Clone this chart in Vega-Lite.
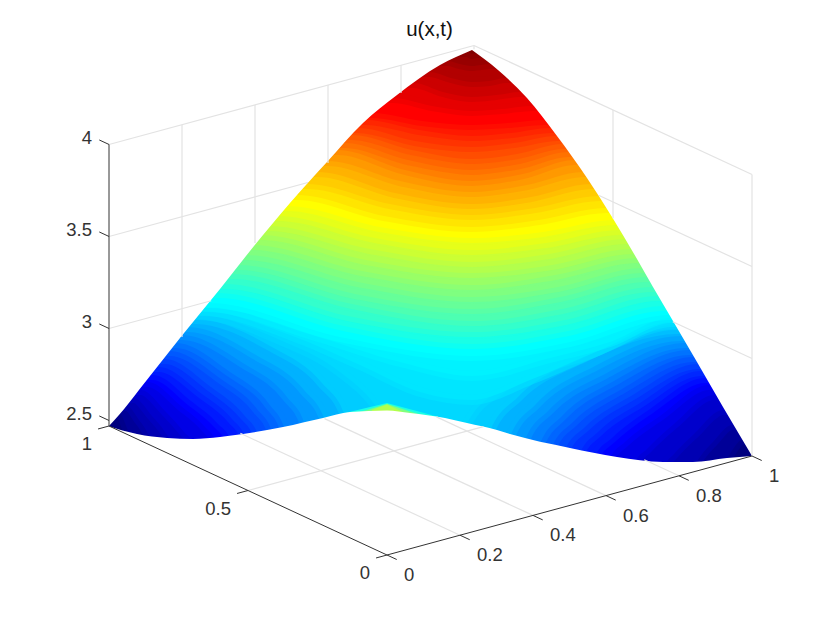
{"$schema":"https://vega.github.io/schema/vega-lite/v6.json","width":830,"height":623,"padding":0,"autosize":{"type":"none"},"background":"white","config":{"view":{"stroke":null}},
"title":{"text":"u(x,t)","frame":"group","anchor":"middle","orient":"top","offset":0,"dx":14.5,"dy":55,"baseline":"middle","font":"Liberation Sans","fontSize":20.5,"fontWeight":"normal","color":"#111111"},
"datasets":{
"surface":[
{"u":2.47,"h":108,"v":490},{"u":2.47,"h":752,"v":490},
{"u":2.508,"h":108,"v":414},{"u":2.508,"h":120,"v":414},{"u":2.508,"h":125,"v":423},{"u":2.508,"h":128,"v":431},{"u":2.508,"h":130,"v":435},{"u":2.508,"h":138,"v":490},{"u":2.508,"h":717,"v":490},{"u":2.508,"h":725,"v":461},{"u":2.508,"h":728,"v":457},{"u":2.508,"h":733,"v":449},{"u":2.508,"h":742,"v":440},{"u":2.508,"h":752,"v":440},
{"u":2.547,"h":108,"v":406},{"u":2.547,"h":127,"v":406},{"u":2.547,"h":139,"v":420},{"u":2.547,"h":147,"v":432},{"u":2.547,"h":150,"v":439},{"u":2.547,"h":158,"v":490},{"u":2.547,"h":687,"v":490},{"u":2.547,"h":695,"v":465},{"u":2.547,"h":700,"v":457},{"u":2.547,"h":713,"v":442},{"u":2.547,"h":732,"v":425},{"u":2.547,"h":752,"v":425},
{"u":2.585,"h":108,"v":398},{"u":2.585,"h":134,"v":398},{"u":2.585,"h":152,"v":416},{"u":2.585,"h":165,"v":432},{"u":2.585,"h":170,"v":441},{"u":2.585,"h":178,"v":490},{"u":2.585,"h":657,"v":490},{"u":2.585,"h":665,"v":465},{"u":2.585,"h":674,"v":454},{"u":2.585,"h":694,"v":434},{"u":2.585,"h":723,"v":410},{"u":2.585,"h":752,"v":410},
{"u":2.623,"h":108,"v":390},{"u":2.623,"h":141,"v":390},{"u":2.623,"h":166,"v":412},{"u":2.623,"h":184,"v":432},{"u":2.623,"h":192,"v":442},{"u":2.623,"h":200,"v":490},{"u":2.623,"h":627,"v":490},{"u":2.623,"h":635,"v":462},{"u":2.623,"h":647,"v":449},{"u":2.623,"h":674,"v":424},{"u":2.623,"h":714,"v":395},{"u":2.623,"h":752,"v":395},
{"u":2.661,"h":108,"v":382},{"u":2.661,"h":148,"v":382},{"u":2.661,"h":181,"v":406},{"u":2.661,"h":205,"v":427},{"u":2.661,"h":215,"v":440},{"u":2.661,"h":223,"v":490},{"u":2.661,"h":602,"v":490},{"u":2.661,"h":610,"v":458},{"u":2.661,"h":625,"v":442},{"u":2.661,"h":660,"v":416},{"u":2.661,"h":709,"v":385},{"u":2.661,"h":752,"v":385},
{"u":2.7,"h":108,"v":375},{"u":2.7,"h":153,"v":375},{"u":2.7,"h":191,"v":401},{"u":2.7,"h":218,"v":424},{"u":2.7,"h":230,"v":439},{"u":2.7,"h":238,"v":490},{"u":2.7,"h":587,"v":490},{"u":2.7,"h":595,"v":456},{"u":2.7,"h":612,"v":438},{"u":2.7,"h":650,"v":409},{"u":2.7,"h":705,"v":378},{"u":2.7,"h":752,"v":378},
{"u":2.738,"h":108,"v":367},{"u":2.738,"h":159,"v":367},{"u":2.738,"h":202,"v":394},{"u":2.738,"h":232,"v":419},{"u":2.738,"h":245,"v":437},{"u":2.738,"h":253,"v":490},{"u":2.738,"h":572,"v":490},{"u":2.738,"h":580,"v":453},{"u":2.738,"h":598,"v":432},{"u":2.738,"h":640,"v":403},{"u":2.738,"h":701,"v":371},{"u":2.738,"h":752,"v":371},
{"u":2.776,"h":108,"v":359},{"u":2.776,"h":165,"v":359},{"u":2.776,"h":211,"v":387},{"u":2.776,"h":244,"v":415},{"u":2.776,"h":258,"v":435},{"u":2.776,"h":266,"v":490},{"u":2.776,"h":557,"v":490},{"u":2.776,"h":565,"v":450},{"u":2.776,"h":585,"v":427},{"u":2.776,"h":631,"v":396},{"u":2.776,"h":698,"v":364},{"u":2.776,"h":752,"v":364},
{"u":2.814,"h":108,"v":351},{"u":2.814,"h":170,"v":351},{"u":2.814,"h":221,"v":379},{"u":2.814,"h":257,"v":409},{"u":2.814,"h":272,"v":432},{"u":2.814,"h":280,"v":490},{"u":2.814,"h":544,"v":490},{"u":2.814,"h":552,"v":447},{"u":2.814,"h":573,"v":422},{"u":2.814,"h":622,"v":389},{"u":2.814,"h":693,"v":357},{"u":2.814,"h":752,"v":357},
{"u":2.853,"h":108,"v":343},{"u":2.853,"h":176,"v":343},{"u":2.853,"h":230,"v":372},{"u":2.853,"h":269,"v":404},{"u":2.853,"h":285,"v":430},{"u":2.853,"h":293,"v":490},{"u":2.853,"h":532,"v":490},{"u":2.853,"h":540,"v":444},{"u":2.853,"h":562,"v":416},{"u":2.853,"h":614,"v":381},{"u":2.853,"h":689,"v":350},{"u":2.853,"h":752,"v":350},
{"u":2.891,"h":108,"v":335},{"u":2.891,"h":182,"v":335},{"u":2.891,"h":243,"v":363},{"u":2.891,"h":287,"v":397},{"u":2.891,"h":305,"v":425},{"u":2.891,"h":313,"v":490},{"u":2.891,"h":517,"v":490},{"u":2.891,"h":525,"v":440},{"u":2.891,"h":549,"v":410},{"u":2.891,"h":605,"v":374},{"u":2.891,"h":685,"v":343},{"u":2.891,"h":752,"v":343},
{"u":2.929,"h":108,"v":327},{"u":2.929,"h":188,"v":327},{"u":2.929,"h":256,"v":355},{"u":2.929,"h":304,"v":390},{"u":2.929,"h":325,"v":421},{"u":2.929,"h":333,"v":490},{"u":2.929,"h":502,"v":490},{"u":2.929,"h":510,"v":437},{"u":2.929,"h":536,"v":404},{"u":2.929,"h":595,"v":366},{"u":2.929,"h":681,"v":336},{"u":2.929,"h":752,"v":336},
{"u":2.967,"h":108,"v":319},{"u":2.967,"h":195,"v":319},{"u":2.967,"h":270,"v":346},{"u":2.967,"h":322,"v":383},{"u":2.967,"h":345,"v":416},{"u":2.967,"h":353,"v":490},{"u":2.967,"h":482,"v":490},{"u":2.967,"h":490,"v":431},{"u":2.967,"h":518,"v":397},{"u":2.967,"h":583,"v":358},{"u":2.967,"h":677,"v":329},{"u":2.967,"h":752,"v":329},
{"u":2.986,"h":108,"v":315},{"u":2.986,"h":198,"v":315},{"u":2.986,"h":280,"v":340},{"u":2.986,"h":340,"v":372},{"u":2.986,"h":375,"v":405},{"u":2.986,"h":385,"v":420},{"u":2.986,"h":392,"v":490},{"u":2.986,"h":457,"v":490},{"u":2.986,"h":465,"v":428},{"u":2.986,"h":500,"v":390},{"u":2.986,"h":590,"v":354},{"u":2.986,"h":675,"v":325},{"u":2.986,"h":752,"v":325},
{"u":3.006,"h":108,"v":311},{"u":3.006,"h":202,"v":311},{"u":3.006,"h":290,"v":335},{"u":3.006,"h":360,"v":365},{"u":3.006,"h":420,"v":392},{"u":3.006,"h":472,"v":400},{"u":3.006,"h":530,"v":380},{"u":3.006,"h":600,"v":350},{"u":3.006,"h":673,"v":322},{"u":3.006,"h":752,"v":322},
{"u":3.025,"h":108,"v":307},{"u":3.025,"h":205,"v":307},{"u":3.025,"h":315,"v":336},{"u":3.025,"h":400,"v":362},{"u":3.025,"h":472,"v":376},{"u":3.025,"h":550,"v":358},{"u":3.025,"h":610,"v":342},{"u":3.025,"h":671,"v":318},{"u":3.025,"h":752,"v":318},
{"u":3.044,"h":108,"v":303},{"u":3.044,"h":209,"v":303},{"u":3.044,"h":340,"v":337},{"u":3.044,"h":472,"v":356},{"u":3.044,"h":570,"v":342},{"u":3.044,"h":669,"v":315},{"u":3.044,"h":752,"v":315},
{"u":3.082,"h":108,"v":293},{"u":3.082,"h":217,"v":293},{"u":3.082,"h":344,"v":326},{"u":3.082,"h":472,"v":344},{"u":3.082,"h":568,"v":331},{"u":3.082,"h":664,"v":306},{"u":3.082,"h":752,"v":306},
{"u":3.12,"h":108,"v":284},{"u":3.12,"h":224,"v":284},{"u":3.12,"h":348,"v":316},{"u":3.12,"h":472,"v":332},{"u":3.12,"h":565,"v":320},{"u":3.12,"h":658,"v":296},{"u":3.12,"h":752,"v":296},
{"u":3.159,"h":108,"v":274},{"u":3.159,"h":232,"v":274},{"u":3.159,"h":352,"v":304},{"u":3.159,"h":472,"v":321},{"u":3.159,"h":562,"v":309},{"u":3.159,"h":652,"v":287},{"u":3.159,"h":752,"v":287},
{"u":3.197,"h":108,"v":265},{"u":3.197,"h":238,"v":265},{"u":3.197,"h":355,"v":294},{"u":3.197,"h":472,"v":309},{"u":3.197,"h":560,"v":297},{"u":3.197,"h":647,"v":277},{"u":3.197,"h":752,"v":277},
{"u":3.235,"h":108,"v":255},{"u":3.235,"h":245,"v":255},{"u":3.235,"h":358,"v":282},{"u":3.235,"h":472,"v":297},{"u":3.235,"h":558,"v":287},{"u":3.235,"h":643,"v":268},{"u":3.235,"h":752,"v":268},
{"u":3.273,"h":108,"v":245},{"u":3.273,"h":252,"v":245},{"u":3.273,"h":362,"v":271},{"u":3.273,"h":472,"v":285},{"u":3.273,"h":555,"v":275},{"u":3.273,"h":638,"v":258},{"u":3.273,"h":752,"v":258},
{"u":3.312,"h":108,"v":235},{"u":3.312,"h":261,"v":235},{"u":3.312,"h":366,"v":260},{"u":3.312,"h":472,"v":273},{"u":3.312,"h":552,"v":265},{"u":3.312,"h":632,"v":249},{"u":3.312,"h":752,"v":249},
{"u":3.35,"h":108,"v":226},{"u":3.35,"h":269,"v":226},{"u":3.35,"h":370,"v":249},{"u":3.35,"h":472,"v":262},{"u":3.35,"h":549,"v":254},{"u":3.35,"h":626,"v":239},{"u":3.35,"h":752,"v":239},
{"u":3.388,"h":108,"v":216},{"u":3.388,"h":278,"v":216},{"u":3.388,"h":375,"v":238},{"u":3.388,"h":472,"v":250},{"u":3.388,"h":546,"v":243},{"u":3.388,"h":620,"v":230},{"u":3.388,"h":752,"v":230},
{"u":3.426,"h":108,"v":206},{"u":3.426,"h":287,"v":206},{"u":3.426,"h":380,"v":227},{"u":3.426,"h":472,"v":238},{"u":3.426,"h":543,"v":232},{"u":3.426,"h":614,"v":220},{"u":3.426,"h":752,"v":220},
{"u":3.465,"h":108,"v":195},{"u":3.465,"h":297,"v":195},{"u":3.465,"h":384,"v":216},{"u":3.465,"h":472,"v":227},{"u":3.465,"h":539,"v":220},{"u":3.465,"h":606,"v":208},{"u":3.465,"h":752,"v":208},
{"u":3.503,"h":108,"v":184},{"u":3.503,"h":307,"v":184},{"u":3.503,"h":390,"v":204},{"u":3.503,"h":472,"v":215},{"u":3.503,"h":535,"v":208},{"u":3.503,"h":599,"v":196},{"u":3.503,"h":752,"v":196},
{"u":3.541,"h":108,"v":172},{"u":3.541,"h":318,"v":172},{"u":3.541,"h":395,"v":193},{"u":3.541,"h":472,"v":204},{"u":3.541,"h":531,"v":197},{"u":3.541,"h":591,"v":184},{"u":3.541,"h":752,"v":184},
{"u":3.579,"h":108,"v":161},{"u":3.579,"h":328,"v":161},{"u":3.579,"h":400,"v":181},{"u":3.579,"h":472,"v":192},{"u":3.579,"h":527,"v":185},{"u":3.579,"h":583,"v":172},{"u":3.579,"h":752,"v":172},
{"u":3.618,"h":108,"v":150},{"u":3.618,"h":338,"v":150},{"u":3.618,"h":405,"v":170},{"u":3.618,"h":472,"v":181},{"u":3.618,"h":523,"v":174},{"u":3.618,"h":574,"v":160},{"u":3.618,"h":752,"v":160},
{"u":3.656,"h":108,"v":143},{"u":3.656,"h":345,"v":143},{"u":3.656,"h":408,"v":160},{"u":3.656,"h":472,"v":170},{"u":3.656,"h":520,"v":164},{"u":3.656,"h":568,"v":152},{"u":3.656,"h":752,"v":152},
{"u":3.694,"h":108,"v":135},{"u":3.694,"h":352,"v":135},{"u":3.694,"h":412,"v":150},{"u":3.694,"h":472,"v":159},{"u":3.694,"h":517,"v":154},{"u":3.694,"h":563,"v":144},{"u":3.694,"h":752,"v":144},
{"u":3.732,"h":108,"v":128},{"u":3.732,"h":358,"v":128},{"u":3.732,"h":415,"v":141},{"u":3.732,"h":472,"v":147},{"u":3.732,"h":514,"v":143},{"u":3.732,"h":557,"v":136},{"u":3.732,"h":752,"v":136},
{"u":3.771,"h":108,"v":120},{"u":3.771,"h":366,"v":120},{"u":3.771,"h":419,"v":130},{"u":3.771,"h":472,"v":136},{"u":3.771,"h":511,"v":133},{"u":3.771,"h":551,"v":128},{"u":3.771,"h":752,"v":128},
{"u":3.809,"h":108,"v":113},{"u":3.809,"h":372,"v":113},{"u":3.809,"h":422,"v":121},{"u":3.809,"h":472,"v":125},{"u":3.809,"h":508,"v":123},{"u":3.809,"h":544,"v":120},{"u":3.809,"h":752,"v":120},
{"u":3.847,"h":108,"v":98},{"u":3.847,"h":393,"v":98},{"u":3.847,"h":432,"v":106},{"u":3.847,"h":472,"v":111},{"u":3.847,"h":502,"v":109},{"u":3.847,"h":533,"v":106},{"u":3.847,"h":752,"v":106},
{"u":3.885,"h":108,"v":83},{"u":3.885,"h":414,"v":83},{"u":3.885,"h":443,"v":92},{"u":3.885,"h":472,"v":97},{"u":3.885,"h":496,"v":95},{"u":3.885,"h":520,"v":92},{"u":3.885,"h":752,"v":92},
{"u":3.924,"h":108,"v":72},{"u":3.924,"h":430,"v":72},{"u":3.924,"h":451,"v":78},{"u":3.924,"h":472,"v":82},{"u":3.924,"h":489,"v":81},{"u":3.924,"h":506,"v":78},{"u":3.924,"h":752,"v":78},
{"u":3.962,"h":108,"v":61},{"u":3.962,"h":448,"v":61},{"u":3.962,"h":460,"v":64},{"u":3.962,"h":472,"v":66},{"u":3.962,"h":481,"v":65},{"u":3.962,"h":490,"v":64},{"u":3.962,"h":752,"v":64},
{"u":4.0,"h":108,"v":52},{"u":4.0,"h":468,"v":52},{"u":4.0,"h":472,"v":54},{"u":4.0,"h":476,"v":53},{"u":4.0,"h":752,"v":53}
],
"tip":[
{"u":3.082,"h":335,"v":417},{"u":3.082,"h":345,"v":413},{"u":3.082,"h":387,"v":403},{"u":3.082,"h":450,"v":420},{"u":3.082,"h":456,"v":430},
{"u":3.12,"h":345,"v":417},{"u":3.12,"h":387,"v":403.5},{"u":3.12,"h":440,"v":420},
{"u":3.159,"h":352,"v":414},{"u":3.159,"h":387,"v":404},{"u":3.159,"h":430,"v":418},
{"u":3.235,"h":362,"v":412},{"u":3.235,"h":387,"v":404},{"u":3.235,"h":420,"v":415},
{"u":3.312,"h":372,"v":410},{"u":3.312,"h":387,"v":404.5},{"u":3.312,"h":405,"v":413}
],
"upper":[
{"side":"A","h":85,"v":623},{"side":"A","h":108,"v":623},
{"side":"L","h":108,"v":427},{"side":"L","h":109,"v":426},{"side":"L","h":150,"v":376},{"side":"L","h":180,"v":338},{"side":"L","h":220,"v":289},{"side":"L","h":254,"v":246},{"side":"L","h":290,"v":203},{"side":"L","h":327,"v":162},{"side":"L","h":363,"v":123},{"side":"L","h":397,"v":95},{"side":"L","h":440,"v":65},{"side":"L","h":472,"v":50},
{"side":"R","h":472,"v":50},{"side":"R","h":498,"v":70},{"side":"R","h":527,"v":98},{"side":"R","h":557,"v":136},{"side":"R","h":587,"v":178},{"side":"R","h":612,"v":217},{"side":"R","h":637,"v":259},{"side":"R","h":653,"v":287},{"side":"R","h":673,"v":321},{"side":"R","h":697,"v":362},{"side":"R","h":723,"v":407},{"side":"R","h":752,"v":456},
{"side":"B","h":752,"v":623},{"side":"B","h":775,"v":623}
],
"lower":[{"h":108,"v":426},{"h":137,"v":434},{"h":167,"v":438},{"h":193,"v":439},{"h":220,"v":437},{"h":243,"v":434},{"h":283,"v":427},{"h":323,"v":418},{"h":350,"v":412},{"h":387,"v":410.5},{"h":410,"v":413},{"h":445,"v":418},{"h":467,"v":423},{"h":497,"v":430},{"h":510,"v":434},{"h":570,"v":448},{"h":617,"v":457},{"h":663,"v":462},{"h":693,"v":462},{"h":727,"v":458},{"h":752,"v":456}],
"grid":[
{"x0":0,"t0":1,"u0":4,"x1":1,"t1":1,"u1":4},{"x0":1,"t0":1,"u0":4,"x1":1,"t1":0,"u1":4},{"x0":1,"t0":0,"u0":4,"x1":1,"t1":0,"u1":2.47},{"x0":1,"t0":1,"u0":4,"x1":1,"t1":1,"u1":3.98},
{"x0":0.2,"t0":1,"u0":4,"x1":0.2,"t1":1,"u1":2.846},{"x0":0.4,"t0":1,"u0":4,"x1":0.4,"t1":1,"u1":3.249},{"x0":0.6,"t0":1,"u0":4,"x1":0.6,"t1":1,"u1":3.576},{"x0":0.8,"t0":1,"u0":4,"x1":0.8,"t1":1,"u1":3.849},
{"x0":1,"t0":0.5,"u0":4,"x1":1,"t1":0.5,"u1":3.41},
{"x0":0,"t0":1,"u0":3.5,"x1":0.545,"t1":1,"u1":3.5},{"x0":0,"t0":1,"u0":3,"x1":0.28,"t1":1,"u1":3},
{"x0":1,"t0":0,"u0":3.5,"x1":1,"t1":0.55,"u1":3.5},{"x0":1,"t0":0,"u0":3,"x1":1,"t1":0.285,"u1":3},
{"x0":0.2,"t0":0,"u0":2.47,"x1":0.2,"t1":0.79,"u1":2.47},{"x0":0.4,"t0":0,"u0":2.47,"x1":0.4,"t1":0.75,"u1":2.47},{"x0":0.6,"t0":0,"u0":2.47,"x1":0.6,"t1":0.61,"u1":2.47},{"x0":0.8,"t0":0,"u0":2.47,"x1":0.8,"t1":0.125,"u1":2.47},
{"x0":0,"t0":0.5,"u0":2.47,"x1":0.645,"t1":0.5,"u1":2.47}
],
"axes":[
{"x0":0,"t0":1,"u0":2.47,"x1":0,"t1":0,"u1":2.47},{"x0":0,"t0":0,"u0":2.47,"x1":1,"t1":0,"u1":2.47},{"x0":0,"t0":1,"u0":2.47,"x1":0,"t1":1,"u1":4},
{"x0":0,"t0":0,"u0":2.47,"x1":0,"t1":-0.035,"u1":2.47},{"x0":0.2,"t0":0,"u0":2.47,"x1":0.2,"t1":-0.035,"u1":2.47},{"x0":0.4,"t0":0,"u0":2.47,"x1":0.4,"t1":-0.035,"u1":2.47},{"x0":0.6,"t0":0,"u0":2.47,"x1":0.6,"t1":-0.035,"u1":2.47},{"x0":0.8,"t0":0,"u0":2.47,"x1":0.8,"t1":-0.035,"u1":2.47},{"x0":1,"t0":0,"u0":2.47,"x1":1,"t1":-0.035,"u1":2.47},
{"x0":0,"t0":0,"u0":2.47,"x1":-0.03,"t1":0,"u1":2.47},{"x0":0,"t0":0.5,"u0":2.47,"x1":-0.03,"t1":0.5,"u1":2.47},{"x0":0,"t0":1,"u0":2.47,"x1":-0.03,"t1":1,"u1":2.47},
{"x0":0,"t0":1,"u0":2.5,"x1":0,"t1":1.035,"u1":2.5},{"x0":0,"t0":1,"u0":3,"x1":0,"t1":1.035,"u1":3},{"x0":0,"t0":1,"u0":3.5,"x1":0,"t1":1.035,"u1":3.5},{"x0":0,"t0":1,"u0":4,"x1":0,"t1":1.035,"u1":4}
],
"xLabels":[{"label":"0","x":0,"t":0,"u":2.47},{"label":"0.2","x":0.2,"t":0,"u":2.47},{"label":"0.4","x":0.4,"t":0,"u":2.47},{"label":"0.6","x":0.6,"t":0,"u":2.47},{"label":"0.8","x":0.8,"t":0,"u":2.47},{"label":"1","x":1,"t":0,"u":2.47}],
"tLabels":[{"label":"0","x":0,"t":0,"u":2.47},{"label":"0.5","x":0,"t":0.5,"u":2.47},{"label":"1","x":0,"t":1,"u":2.47}],
"uLabels":[{"label":"2.5","x":0,"t":1,"u":2.5},{"label":"3","x":0,"t":1,"u":3},{"label":"3.5","x":0,"t":1,"u":3.5},{"label":"4","x":0,"t":1,"u":4}]
},
"layer":[
{"data":{"name":"surface"},"mark":{"type":"area","interpolate":"monotone","strokeWidth":10,"strokeOpacity":0.5,"strokeJoin":"round"},"encoding":{"x":{"field":"h","type":"quantitative","scale":{"domain":[0,830],"nice":false,"zero":false},"axis":null},"y":{"field":"v","type":"quantitative","stack":null,"scale":{"domain":[623,0],"nice":false,"zero":false},"axis":null},"y2":{"datum":0},"detail":{"field":"u"},"color":{"field":"u","type":"quantitative","legend":null,"scale":{"domain":[2.47,2.661,3.044,3.426,3.809,4.0],"range":["#00007F","#0000FF","#00FFFF","#FFFF00","#FF0000","#7F0000"],"interpolate":"rgb"}},"stroke":{"field":"u","type":"quantitative","legend":null,"scale":{"domain":[2.47,2.661,3.044,3.426,3.809,4.0],"range":["#00007F","#0000FF","#00FFFF","#FFFF00","#FF0000","#7F0000"],"interpolate":"rgb"}}}},
{"data":{"name":"tip"},"mark":{"type":"area","interpolate":"linear"},"encoding":{"x":{"field":"h","type":"quantitative"},"y":{"field":"v","type":"quantitative","stack":null},"y2":{"datum":490},"detail":{"field":"u"},"color":{"field":"u","type":"quantitative","legend":null}}},
{"data":{"name":"upper"},"mark":{"type":"area","interpolate":"monotone","color":"white"},"encoding":{"x":{"field":"h","type":"quantitative"},"y":{"field":"v","type":"quantitative","stack":null},"y2":{"datum":0},"detail":{"field":"side"}}},
{"data":{"name":"lower"},"mark":{"type":"area","interpolate":"monotone","color":"white"},"encoding":{"x":{"field":"h","type":"quantitative"},"y":{"field":"v","type":"quantitative","stack":null},"y2":{"datum":623}}},
{"data":{"name":"grid"},"transform":[{"calculate":"387+365*datum.x0-278*datum.t0","as":"a0"},{"calculate":"555-99*datum.x0-129*datum.t0-184*(datum.u0-2.47)","as":"b0"},{"calculate":"387+365*datum.x1-278*datum.t1","as":"a1"},{"calculate":"555-99*datum.x1-129*datum.t1-184*(datum.u1-2.47)","as":"b1"}],"mark":{"type":"rule","color":"#E3E3E3","strokeWidth":1.2},"encoding":{"x":{"field":"a0","type":"quantitative"},"y":{"field":"b0","type":"quantitative"},"x2":{"field":"a1"},"y2":{"field":"b1"}}},
{"data":{"name":"axes"},"transform":[{"calculate":"387+365*datum.x0-278*datum.t0","as":"a0"},{"calculate":"555-99*datum.x0-129*datum.t0-184*(datum.u0-2.47)","as":"b0"},{"calculate":"387+365*datum.x1-278*datum.t1","as":"a1"},{"calculate":"555-99*datum.x1-129*datum.t1-184*(datum.u1-2.47)","as":"b1"}],"mark":{"type":"rule","color":"#333333","strokeWidth":1},"encoding":{"x":{"field":"a0","type":"quantitative"},"y":{"field":"b0","type":"quantitative"},"x2":{"field":"a1"},"y2":{"field":"b1"}}},
{"data":{"name":"xLabels"},"transform":[{"calculate":"387+365*datum.x-278*datum.t","as":"a"},{"calculate":"555-99*datum.x-129*datum.t-184*(datum.u-2.47)","as":"b"}],"mark":{"type":"text","align":"left","baseline":"middle","dx":17,"dy":20,"font":"Liberation Sans","fontSize":18.5,"color":"#333333"},"encoding":{"x":{"field":"a","type":"quantitative"},"y":{"field":"b","type":"quantitative"},"text":{"field":"label"}}},
{"data":{"name":"tLabels"},"transform":[{"calculate":"387+365*datum.x-278*datum.t","as":"a"},{"calculate":"555-99*datum.x-129*datum.t-184*(datum.u-2.47)","as":"b"}],"mark":{"type":"text","align":"right","baseline":"middle","dx":-17,"dy":18,"font":"Liberation Sans","fontSize":18.5,"color":"#333333"},"encoding":{"x":{"field":"a","type":"quantitative"},"y":{"field":"b","type":"quantitative"},"text":{"field":"label"}}},
{"data":{"name":"uLabels"},"transform":[{"calculate":"387+365*datum.x-278*datum.t","as":"a"},{"calculate":"555-99*datum.x-129*datum.t-184*(datum.u-2.47)","as":"b"}],"mark":{"type":"text","align":"right","baseline":"middle","dx":-17,"dy":-6,"font":"Liberation Sans","fontSize":18.5,"color":"#333333"},"encoding":{"x":{"field":"a","type":"quantitative"},"y":{"field":"b","type":"quantitative"},"text":{"field":"label"}}}
]}
